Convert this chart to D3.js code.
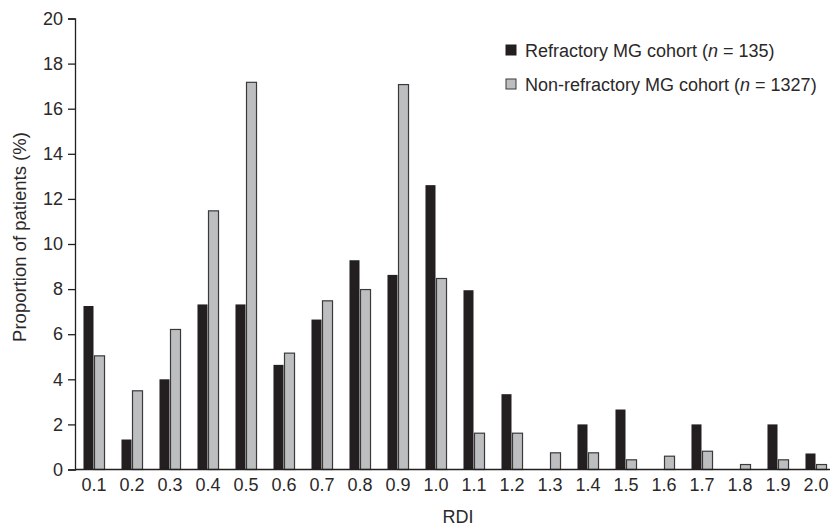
<!DOCTYPE html>
<html>
<head>
<meta charset="utf-8">
<script src="https://cdn.jsdelivr.net/npm/d3@7"></script>
<style>
  body { margin: 0; background: #fff; }
  text { font-family: "Liberation Sans", Arial, sans-serif; fill: #2b2829; }
</style>
</head>
<body>
<svg id="chart" width="830" height="526"></svg>
<script>
// categories (RDI bins)
var rdi = ["0.1","0.2","0.3","0.4","0.5","0.6","0.7","0.8","0.9","1.0",
           "1.1","1.2","1.3","1.4","1.5","1.6","1.7","1.8","1.9","2.0"];
// refractory MG cohort, % of patients
var refractory = [7.25, 1.33, 4.0, 7.32, 7.32, 4.64, 6.65, 9.28, 8.63, 12.61,
                  7.95, 3.34, 0, 2.0, 2.66, 0, 2.0, 0, 2.0, 0.71];
// non-refractory MG cohort, % of patients
var non_refractory = [5.04, 3.49, 6.21, 11.47, 17.17, 5.16, 7.48, 7.98, 17.07, 8.47,
                      1.61, 1.61, 0.74, 0.74, 0.43, 0.59, 0.81, 0.22, 0.43, 0.22];
var y_ticks = [0, 2, 4, 6, 8, 10, 12, 14, 16, 18, 20];
var series_names = ["Refractory MG cohort", "Non-refractory MG cohort"];
var series_n = ["135", "1327"];

var svg = d3.select("#chart");
var ink = "#231f20", grey = "#bcbec0";

var x_scale = d3.scaleBand().domain(rdi).range([75, 835])
    .paddingInner(0.42).paddingOuter(0.21);
var x_sub = d3.scaleBand().domain([0, 1]).range([0, x_scale.bandwidth()]);
var y_scale = d3.scaleLinear().domain([0, 20]).range([469.5, 18.5]);

var rows = rdi.map(function(d, i) {
    return {cat: d, vals: [refractory[i], non_refractory[i]]};
});

// bars
var groups = svg.append("g").selectAll("g").data(rows).enter().append("g")
    .attr("transform", d => "translate(" + x_scale(d.cat) + ",0)");

groups.selectAll("rect").data(d => d.vals.map((v, k) => ({k: k, v: v})))
    .enter().filter(d => d.v > 0).append("rect")
    .attr("x", d => x_sub(d.k) + 0.5)
    .attr("y", d => y_scale(d.v))
    .attr("width", x_sub.bandwidth() - 1)
    .attr("height", d => y_scale(0) - y_scale(d.v))
    .attr("fill", d => d.k === 0 ? ink : grey)
    .attr("stroke", d => d.k === 0 ? "none" : "#3a3a3a")
    .attr("stroke-width", 1.2);

// y axis
var y_axis = svg.append("g").attr("transform", "translate(75,0)")
    .call(d3.axisLeft(y_scale).tickValues(y_ticks).tickSize(7).tickPadding(5));
y_axis.selectAll("text").style("font-size", "18px");

// x axis
var x_axis = svg.append("g").attr("transform", "translate(0," + y_scale(0) + ")")
    .call(d3.axisBottom(x_scale).tickSize(0).tickPadding(9).tickSizeOuter(0));
x_axis.selectAll("text").style("font-size", "18px");
x_axis.select(".domain").attr("d", "M75,0H830");

svg.selectAll(".domain, .tick line").attr("stroke", ink).attr("stroke-width", 1.3);

// axis titles
svg.append("text").attr("x", 458).attr("y", 523).attr("text-anchor", "middle")
    .style("font-size", "18px").text("RDI");
svg.append("text").attr("transform", "translate(26,237) rotate(-90)")
    .attr("text-anchor", "middle").style("font-size", "18.5px")
    .text("Proportion of patients (%)");

// legend
var legend = svg.append("g").attr("transform", "translate(506,45)");
series_names.forEach(function(name, i) {
    var row = legend.append("g").attr("transform", "translate(0," + (i * 34) + ")");
    row.append("rect").attr("width", 10).attr("height", 10)
        .attr("fill", i === 0 ? ink : grey)
        .attr("stroke", i === 0 ? ink : "#3a3a3a").attr("stroke-width", 1);
    var t = row.append("text").attr("x", 19).attr("y", 11.5).style("font-size", "18px");
    t.append("tspan").text(name + " (");
    t.append("tspan").style("font-style", "italic").text("n");
    t.append("tspan").text(" = " + series_n[i] + ")");
});
</script>
</body>
</html>
